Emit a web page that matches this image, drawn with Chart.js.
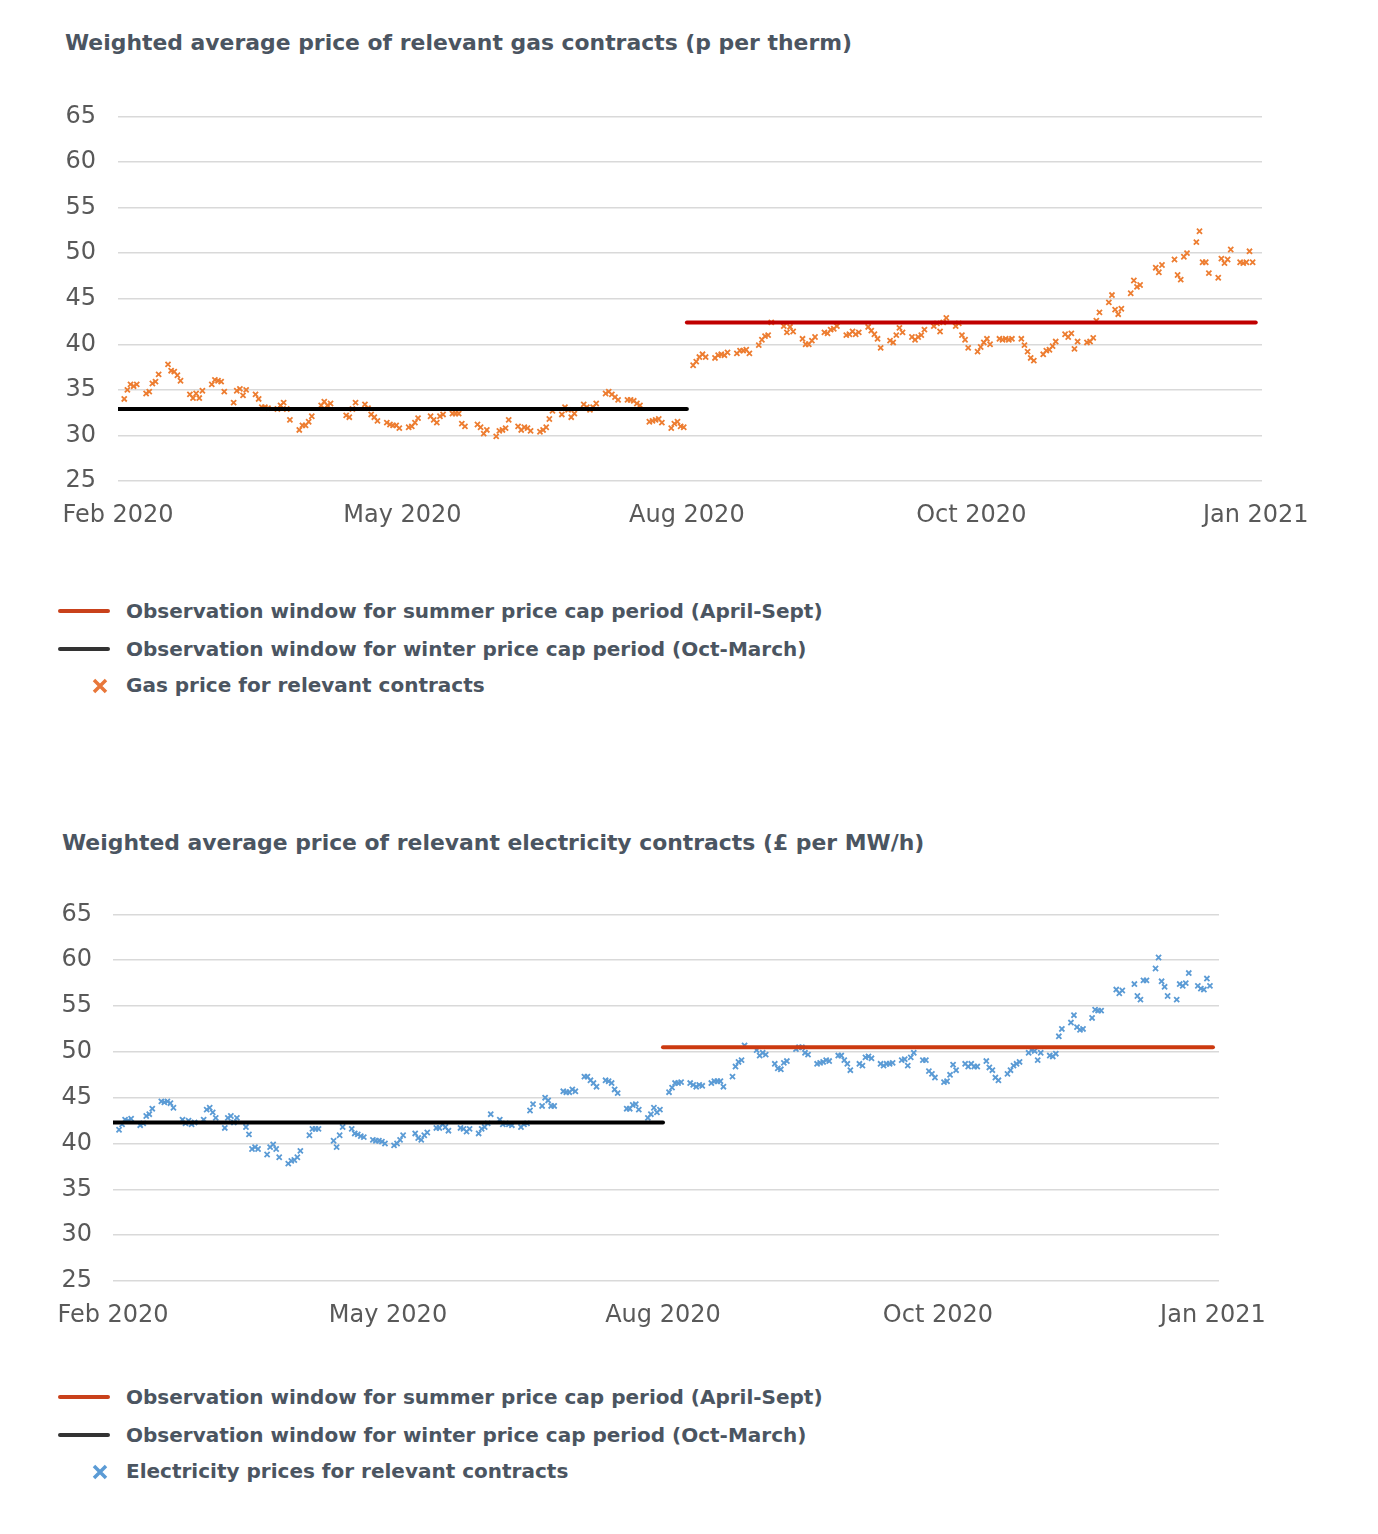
<!DOCTYPE html>
<html>
<head>
<meta charset="utf-8">
<script src="https://cdn.jsdelivr.net/npm/chart.js@4.4.1/dist/chart.umd.min.js"></script>
<style>
  body { margin: 0; background: #fff; width: 1378px; height: 1534px; position: relative; font-family: "DejaVu Sans", Verdana, sans-serif; }
  .title { position: absolute; font-size: 21.9px; font-weight: bold; color: #4b5561; white-space: nowrap; }
  canvas { position: absolute; left: 0; }
  .legend { position: absolute; left: 0; }
  .row { position: absolute; left: 0; height: 30px; white-space: nowrap; }
  .swatch { position: absolute; left: 58px; top: 13px; width: 52px; height: 4px; border-radius: 2px; }
  .mark { position: absolute; left: 91px; top: 7px; }
  .row span { position: absolute; left: 126px; top: 3px; font-size: 20px; font-weight: bold; color: #4b5561; }
</style>
</head>
<body>
<div class="title" style="left:65px; top:30px;">Weighted average price of relevant gas contracts (p per therm)</div>
<canvas id="gasChart" width="1378" height="470" style="top:80px"></canvas>
<div class="legend">
  <div class="row" style="top:596px"><div class="swatch" style="background:#c9411b"></div><span>Observation window for summer price cap period (April-Sept)</span></div>
  <div class="row" style="top:634px"><div class="swatch" style="background:#333"></div><span>Observation window for winter price cap period (Oct-March)</span></div>
  <div class="row" style="top:670px"><svg class="mark" width="18" height="18"><path d="M3 3L15 15M15 3L3 15" stroke="#e8773a" stroke-width="3.5"/></svg><span>Gas price for relevant contracts</span></div>
</div>

<div class="title" style="left:62px; top:830px;">Weighted average price of relevant electricity contracts (£ per MW/h)</div>
<canvas id="elecChart" width="1378" height="471" style="top:879px"></canvas>
<div class="legend">
  <div class="row" style="top:1382px"><div class="swatch" style="background:#c9411b"></div><span>Observation window for summer price cap period (April-Sept)</span></div>
  <div class="row" style="top:1420px"><div class="swatch" style="background:#333"></div><span>Observation window for winter price cap period (Oct-March)</span></div>
  <div class="row" style="top:1456px"><svg class="mark" width="18" height="18"><path d="M3 3L15 15M15 3L3 15" stroke="#5b9bd5" stroke-width="3.5"/></svg><span>Electricity prices for relevant contracts</span></div>
</div>

<script>
// Axis labels (equally spaced, as in the original)
const tickDays = [0, 91, 182, 273, 364];
const tickLabels = ['Feb 2020', 'May 2020', 'Aug 2020', 'Oct 2020', 'Jan 2021'];

// UK market holidays - no prices on these days
const holidays = ['2020-04-10', '2020-04-13', '2020-05-08', '2020-05-25', '2020-08-31', '2020-12-25', '2020-12-28', '2021-01-01'];

// Observation windows (days from 1 Feb 2020)
const winterWindow = [0, 182];
const summerWindow = [182, 364];

// Gas, p per therm (one value per trading day, 3 Feb 2020 - 29 Jan 2021)
const gasPrices = [
  34.0, 35.0, 35.6, 35.4, 35.6,
  34.6, 34.8, 35.7, 35.9, 36.7,
  37.8, 37.1, 37.0, 36.6, 36.0,
  34.5, 34.1, 34.6, 34.1, 34.9,
  35.6, 36.1, 36.0, 35.9, 34.8,
  33.6, 34.9, 35.1, 34.4, 35.0,
  34.5, 34.0, 33.1, 33.1, 33.0,
  32.9, 33.3, 33.6, 32.9, 31.7,
  30.6, 31.1, 31.1, 31.5, 32.1,
  33.3, 33.7, 33.3, 33.5,
  32.2, 32.0, 32.9, 33.6,
  33.4, 33.0, 32.3, 32.0, 31.6,
  31.4, 31.2, 31.1, 31.1, 30.8,
  30.9, 31.0, 31.4, 31.9,
  32.1, 31.7, 31.4, 32.1, 32.3,
  32.4, 32.4, 32.4, 31.3, 31.0,
  31.2, 30.9, 30.2, 30.6,
  29.9, 30.5, 30.6, 30.8, 31.7,
  31.0, 30.6, 30.9, 30.8, 30.5,
  30.4, 30.6, 30.9, 31.8, 32.7,
  32.3, 33.1, 32.8, 32.0, 32.4,
  33.4, 33.1, 32.8, 33.1, 33.5,
  34.6, 34.8, 34.5, 34.2, 33.9,
  33.9, 33.9, 33.8, 33.5, 33.3,
  31.5, 31.6, 31.7, 31.8, 31.4,
  30.8, 31.3, 31.5, 31.0, 30.9,
  37.7, 38.1, 38.6, 38.9, 38.6,
  38.5, 38.8, 38.9, 38.8, 39.1,
  39.0, 39.3, 39.3, 39.4, 39.0,
  39.9, 40.5, 40.9, 41.0, 42.4,
  42.0, 41.3, 41.9, 41.4,
  40.6, 40.0, 40.0, 40.4, 40.8,
  41.3, 41.2, 41.6, 41.7, 42.0,
  41.0, 41.1, 41.4, 41.1, 41.3,
  41.9, 41.5, 41.1, 40.6, 39.6,
  40.4, 40.2, 41.0, 41.8, 41.3,
  40.8, 40.5, 40.8, 41.0, 41.6,
  42.0, 42.3, 41.4, 42.4, 42.9,
  42.0, 42.3, 41.0, 40.5, 39.6,
  39.2, 39.7, 40.2, 40.6, 40.0,
  40.6, 40.5, 40.6, 40.5, 40.6,
  40.6, 39.9, 39.2, 38.5, 38.2,
  38.9, 39.3, 39.4, 39.8, 40.3,
  41.1, 40.8, 41.2, 39.5, 40.3,
  40.2, 40.3, 40.7, 42.6, 43.5,
  44.6, 45.4, 43.8, 43.3, 43.9,
  45.6, 47.0, 46.3, 46.5,
  48.4, 47.9, 48.7,
  49.3, 47.6, 47.1, 49.6, 50.0,
  51.2, 52.4, 49.0, 49.0, 47.8,
  47.3, 49.4, 48.9, 49.3, 50.4,
  49.0, 48.9, 49.0, 50.2, 49.0
];
const gasWinterAvg = 32.9;
const gasSummerAvg = 42.4;

// Electricity, £ per MWh
const elecPrices = [
  41.5, 42.1, 42.6, 42.5, 42.7,
  42.0, 42.2, 43.0, 43.2, 43.8,
  44.6, 44.5, 44.6, 44.4, 43.9,
  42.6, 42.2, 42.5, 42.1, 42.3,
  42.6, 43.7, 43.9, 43.4, 42.8,
  41.7, 42.8, 43.0, 42.3, 42.8,
  41.8, 41.0, 39.4, 39.6, 39.4,
  38.8, 39.6, 39.9, 39.4, 38.5,
  37.8, 38.1, 38.2, 38.5, 39.2,
  40.9, 41.6, 41.6, 41.6,
  40.3, 39.6, 40.9, 41.8,
  41.6, 41.1, 41.0, 40.8, 40.7,
  40.4, 40.3, 40.3, 40.2, 40.0,
  39.8, 40.0, 40.4, 40.9,
  41.1, 40.6, 40.4, 40.9, 41.2,
  41.7, 41.7, 42.1, 41.8, 41.4,
  41.7, 41.6, 41.3, 41.6,
  41.1, 41.6, 41.8, 42.2, 43.2,
  42.6, 42.1, 42.2, 42.1, 42.0,
  41.8, 42.1, 42.2, 43.6, 44.3,
  44.1, 45.0, 44.7, 44.1, 44.1,
  45.7, 45.6, 45.6, 45.9, 45.7,
  47.3, 47.3, 46.9, 46.6, 46.2,
  46.9, 46.8, 46.6, 45.9, 45.5,
  43.8, 43.8, 44.2, 44.3, 43.7,
  42.8, 43.2, 43.9, 43.4, 43.7,
  45.6, 46.1, 46.6, 46.6, 46.7,
  46.6, 46.4, 46.2, 46.4, 46.3,
  46.6, 46.8, 46.8, 46.8, 46.2,
  47.3, 48.4, 48.9, 49.1, 50.7,
  50.2, 49.6, 49.9, 49.7,
  48.7, 48.2, 48.1, 48.8, 49.0,
  50.3, 50.5, 50.5, 49.9, 49.7,
  48.7, 48.8, 48.9, 49.1, 49.0,
  49.6, 49.6, 49.1, 48.7, 48.0,
  48.7, 48.5, 49.4, 49.5, 49.3,
  48.7, 48.5, 48.7, 48.7, 48.8,
  49.1, 49.2, 48.5, 49.4, 49.9,
  49.1, 49.1, 47.9, 47.6, 47.2,
  46.7, 46.8, 47.5, 48.6, 48.0,
  48.7, 48.4, 48.7, 48.4, 48.4,
  49.0, 48.3, 48.0, 47.2, 46.9,
  47.6, 48.0, 48.5, 48.7, 48.9,
  49.9, 50.2, 50.1, 49.1, 49.9,
  49.6, 49.5, 49.8, 51.7, 52.5,
  53.2, 54.0, 52.7, 52.4, 52.5,
  53.7, 54.6, 54.5, 54.5,
  56.8, 56.4, 56.7,
  57.4, 56.1, 55.7, 57.8, 57.8,
  59.1, 60.3, 57.7, 57.1, 56.1,
  55.7, 57.4, 57.2, 57.5, 58.6,
  57.2, 56.9, 56.8, 58.0, 57.2
];
const elecWinterAvg = 42.3;
const elecSummerAvg = 50.5;

// Day offsets of trading days, counted from 1 Feb 2020
const DAY = 86400000;
const origin = Date.UTC(2020, 1, 1);
function tradingDays(count) {
    const out = [];
    let t = Date.UTC(2020, 1, 3);
    while (out.length < count) {
        const d = new Date(t);
        const wd = d.getUTCDay();
        const iso = d.toISOString().slice(0, 10);
        if (wd !== 0 && wd !== 6 && !holidays.includes(iso)) out.push((t - origin) / DAY);
        t += DAY;
    }
    return out;
}

function makeChart(id, prices, winterAvg, summerAvg, pointColor, summerColor, cfg) {
    const days = tradingDays(prices.length);
    const ctx = document.getElementById(id).getContext('2d');
    return new Chart(ctx, {
        type: 'scatter',
        data: {
            datasets: [
                {
                    data: prices.map((v, i) => ({ x: days[i], y: v })),
                    pointStyle: 'crossRot',
                    pointRadius: 3.6,
                    pointBorderWidth: 1.8,
                    borderColor: pointColor,
                    backgroundColor: pointColor,
                    order: 2
                },
                {
                    type: 'line',
                    data: winterWindow.map(d => ({ x: d, y: winterAvg })),
                    borderColor: '#000000',
                    borderWidth: 4,
                    borderCapStyle: 'round',
                    pointRadius: 0,
                    order: 1
                },
                {
                    type: 'line',
                    data: summerWindow.map(d => ({ x: d, y: summerAvg })),
                    borderColor: summerColor,
                    borderWidth: 4,
                    borderCapStyle: 'round',
                    pointRadius: 0,
                    order: 1
                }
            ]
        },
        options: {
            responsive: false,
            animation: false,
            layout: { padding: { left: 0, top: cfg.top, right: cfg.right, bottom: 0 } },
            plugins: { legend: { display: false }, tooltip: { enabled: false } },
            scales: {
                x: {
                    type: 'linear',
                    min: 0,
                    max: 366,
                    grid: { display: false, drawTicks: false },
                    border: { display: false },
                    afterBuildTicks: scale => { scale.ticks = tickDays.map(v => ({ value: v })); },
                    afterFit: scale => { scale.height = 69; },
                    ticks: {
                        autoSkip: false,
                        maxRotation: 0,
                        padding: 20,
                        color: '#595959',
                        font: { family: 'DejaVu Sans', size: 24 },
                        callback: (value, index) => tickLabels[index]
                    }
                },
                y: {
                    min: 25,
                    max: 65,
                    grid: { color: '#d9d9d9', lineWidth: 1.5, drawTicks: false },
                    border: { display: false },
                    afterFit: scale => { scale.width = cfg.left; },
                    ticks: {
                        stepSize: 5,
                        padding: cfg.pad,
                        color: '#595959',
                        font: { family: 'DejaVu Sans', size: 24 }
                    }
                }
            }
        }
    });
}

makeChart('gasChart', gasPrices, gasWinterAvg, gasSummerAvg, '#ed7d31', '#c00000', { top: 15, right: 116, left: 118, pad: 22 });
makeChart('elecChart', elecPrices, elecWinterAvg, elecSummerAvg, '#5b9bd5', '#cc3a10', { top: 12, right: 159, left: 113, pad: 21 });
</script>
</body>
</html>
